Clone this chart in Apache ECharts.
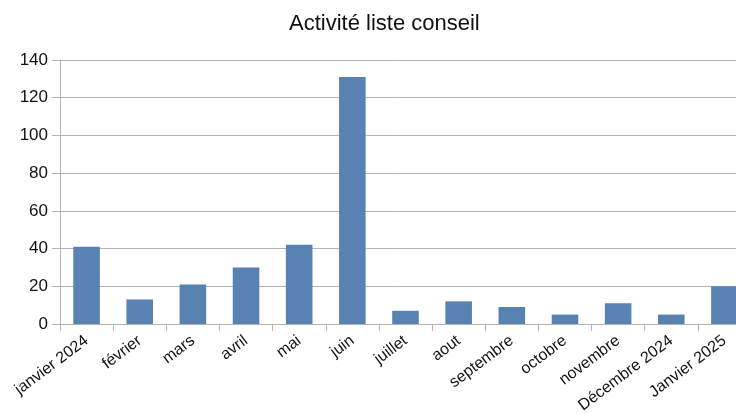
<!DOCTYPE html>
<html>
<head>
<meta charset="utf-8">
<script src="https://cdn.jsdelivr.net/npm/echarts@6/dist/echarts.min.js"></script>
<style>
html,body{margin:0;padding:0;background:#fff;}
#c{width:736px;height:414px;}
</style>
</head>
<body>
<div id="c"></div>
<script>
var titleText = "Activité liste conseil";
var categories = ["janvier 2024","février","mars","avril","mai","juin","juillet","aout","septembre","octobre","novembre","Décembre 2024","Janvier 2025"];
var values = [41, 13, 21, 30, 42, 131, 7, 12, 9, 5, 11, 5, 20];
var yTicks = {min: 0, max: 140, interval: 20};

var chart = echarts.init(document.getElementById('c'), null, {renderer: 'canvas'});
var font = "'Liberation Sans', Arial, sans-serif";
chart.setOption({
  animation: false,
  backgroundColor: '#ffffff',
  title: {
    text: titleText,
    left: 284,
    top: 8,
    textStyle: {fontFamily: font, fontSize: 22, fontWeight: 'normal', color: '#111111'}
  },
  grid: {left: 60, width: 691, top: 60, bottom: 90, containLabel: false, outerBoundsMode: 'none'},
  xAxis: {
    type: 'category',
    data: categories,
    boundaryGap: true,
    axisLine: {lineStyle: {color: '#b3b3b3', width: 1}},
    axisTick: {show: true, length: 7, lineStyle: {color: '#b3b3b3'}},
    axisLabel: {
      interval: 0, rotate: 37, margin: 15,
      fontFamily: font, fontSize: 16, color: '#111111'
    }
  },
  yAxis: {
    type: 'value',
    min: yTicks.min, max: yTicks.max, interval: yTicks.interval,
    axisLine: {show: true, lineStyle: {color: '#b3b3b3', width: 1}},
    axisTick: {show: true, length: 8, lineStyle: {color: '#b3b3b3'}},
    splitLine: {lineStyle: {color: '#b3b3b3', width: 1}},
    axisLabel: {margin: 12, fontFamily: font, fontSize: 17, color: '#111111'}
  },
  series: [{
    type: 'bar',
    data: values,
    barCategoryGap: '50%',
    itemStyle: {color: '#5882b2'}
  }]
});
</script>
</body>
</html>
